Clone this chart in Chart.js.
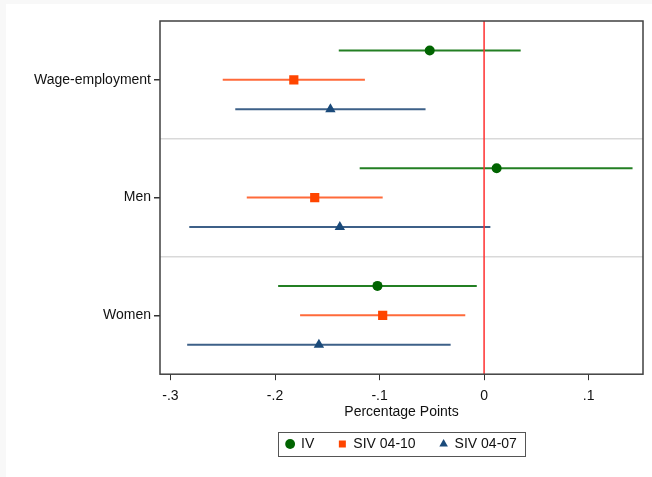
<!DOCTYPE html>
<html>
<head>
<meta charset="utf-8">
<script src="https://cdn.jsdelivr.net/npm/chart.js@4/dist/chart.umd.min.js"></script>
<style>
  html, body { margin: 0; padding: 0; background: #f8f8f8; }
  #wrap { position: absolute; left: 6px; top: 4px; width: 646px; height: 473px; background: #fff; }
</style>
</head>
<body>
<div id="wrap"><canvas id="coefplot" width="646" height="473"></canvas></div>
<script>
// groups and estimates (point, lower and upper bound)
const groups = ["Wage-employment", "Men", "Women"];
const seriesNames = ["IV", "SIV 04-10", "SIV 04-07"];
const ivEst = [-0.052, 0.012, -0.102];
const ivLow = [-0.139, -0.119, -0.197];
const ivHigh = [0.035, 0.142, -0.007];
const siv10Est = [-0.182, -0.162, -0.097];
const siv10Low = [-0.250, -0.227, -0.176];
const siv10High = [-0.114, -0.097, -0.018];
const siv07Est = [-0.147, -0.138, -0.158];
const siv07Low = [-0.238, -0.282, -0.284];
const siv07High = [-0.056, 0.006, -0.032];
const xTicks = [-0.3, -0.2, -0.1, 0, 0.1];
const xTickLabels = ["-.3", "-.2", "-.1", "0", ".1"];
const refValue = 0;

const markerColors = ["#006400", "#ff4500", "#1a4a7a"];
const lineColors = ["#237f23", "#ff6a3a", "#3d6088"];
const pointStyles = ["circle", "rect", "triangle"];
const pointSizes = [5, 6.5, 6];

// each group takes 4 rows: 3 estimates + the separator
function rowOf(g, s) { return g * 4 + s + 1; }

const est = [ivEst, siv10Est, siv07Est];
const low = [ivLow, siv10Low, siv07Low];
const high = [ivHigh, siv10High, siv07High];

let datasets = [];
// markers first so they end up on top
for (let s = 0; s < 3; s++) {
    datasets.push({
        label: seriesNames[s],
        data: groups.map((g, i) => ({ x: est[s][i], y: rowOf(i, s) })),
        pointStyle: pointStyles[s],
        pointRadius: pointSizes[s],
        pointHoverRadius: pointSizes[s],
        backgroundColor: markerColors[s],
        borderColor: markerColors[s],
        borderWidth: 0,
        showLine: false
    });
}
// red reference line at zero
datasets.push({
    label: "ref",
    data: [{ x: refValue, y: 0 }, { x: refValue, y: groups.length * 4 }],
    showLine: true,
    borderColor: "#ff3030",
    borderWidth: 1.5,
    pointRadius: 0
});
// confidence intervals
for (let s = 0; s < 3; s++) {
    for (let i = 0; i < groups.length; i++) {
        datasets.push({
            label: "ci",
            data: [{ x: low[s][i], y: rowOf(i, s) }, { x: high[s][i], y: rowOf(i, s) }],
            showLine: true,
            borderColor: lineColors[s],
            borderWidth: 2,
            pointRadius: 0
        });
    }
}

// legend centred under the plot area + frames
const framePlugin = {
    id: "frame",
    afterLayout(chart) {
        const lg = chart.legend;
        const a = chart.chartArea;
        const d = (a.left + a.right) / 2 - (lg.left + lg.right) / 2;
        lg.left += d;
        lg.right += d;
    },
    afterDraw(chart) {
        const ctx = chart.ctx;
        const a = chart.chartArea;
        ctx.save();
        ctx.strokeStyle = "#404040";
        ctx.lineWidth = 1.5;
        ctx.strokeRect(a.left, a.top, a.right - a.left, a.bottom - a.top);
        const boxes = chart.legend.legendHitBoxes;
        if (boxes && boxes.length) {
            let x0 = Math.min(...boxes.map(b => b.left));
            let x1 = Math.max(...boxes.map(b => b.left + b.width));
            let y0 = Math.min(...boxes.map(b => b.top));
            let y1 = Math.max(...boxes.map(b => b.top + b.height));
            const w = x1 - x0 + 16;
            const cx = (a.left + a.right) / 2;
            ctx.strokeStyle = "#555";
            ctx.lineWidth = 1;
            ctx.strokeRect(Math.round(cx - w / 2) + 0.5, Math.round(y0 - 5) + 0.5, Math.round(w), Math.round(y1 - y0 + 10));
        }
        ctx.restore();
    }
};

Chart.defaults.font.family = "'Liberation Sans', Arial, sans-serif";
Chart.defaults.color = "#111";

new Chart("coefplot", {
    type: 'scatter',
    data: { datasets: datasets },
    options: {
        responsive: false,
        animation: false,
        layout: { padding: { left: 0, right: 9, top: 17, bottom: 16 } },
        scales: {
            x: {
                min: -0.31,
                max: 0.152,
                afterBuildTicks: function(scale) {
                    scale.ticks = xTicks.map(v => ({ value: v }));
                },
                ticks: {
                    font: { size: 14, lineHeight: 1 },
                    padding: 9,
                    callback: function(value) {
                        const i = xTicks.findIndex(t => Math.abs(t - value) < 1e-9);
                        return i >= 0 ? xTickLabels[i] : "";
                    }
                },
                grid: { drawOnChartArea: false, tickLength: 6, tickColor: "#333" },
                border: { display: false },
                title: { display: true, text: "Percentage Points", font: { size: 14 }, padding: { top: -8, bottom: -8 } }
            },
            y: {
                min: 0,
                max: groups.length * 4,
                reverse: true,
                afterBuildTicks: function(scale) {
                    let t = [];
                    for (let i = 0; i < groups.length; i++) {
                        t.push({ value: i * 4 + 2 });
                        if (i < groups.length - 1) t.push({ value: i * 4 + 4 });
                    }
                    scale.ticks = t;
                },
                afterFit: function(scale) { scale.width = 154; },
                ticks: {
                    font: { size: 14 },
                    padding: 3,
                    callback: function(value) {
                        return value % 4 == 2 ? groups[(value - 2) / 4] : "";
                    }
                },
                grid: {
                    tickLength: 6,
                    lineWidth: 1.5,
                    color: ctx => (ctx.tick && ctx.tick.value % 4 == 0) ? "#d9d9d9" : "rgba(0,0,0,0)",
                    tickColor: ctx => (ctx.tick && ctx.tick.value % 4 == 2) ? "#333" : "rgba(0,0,0,0)"
                },
                border: { display: false }
            }
        },
        plugins: {
            tooltip: { enabled: false },
            legend: {
                position: 'bottom',
                labels: {
                    filter: item => item.datasetIndex < 3,
                    usePointStyle: true,
                    boxWidth: 8,
                    boxHeight: 7,
                    padding: 24,
                    font: { size: 14 }
                }
            }
        }
    },
    plugins: [framePlugin]
});
</script>
</body>
</html>
